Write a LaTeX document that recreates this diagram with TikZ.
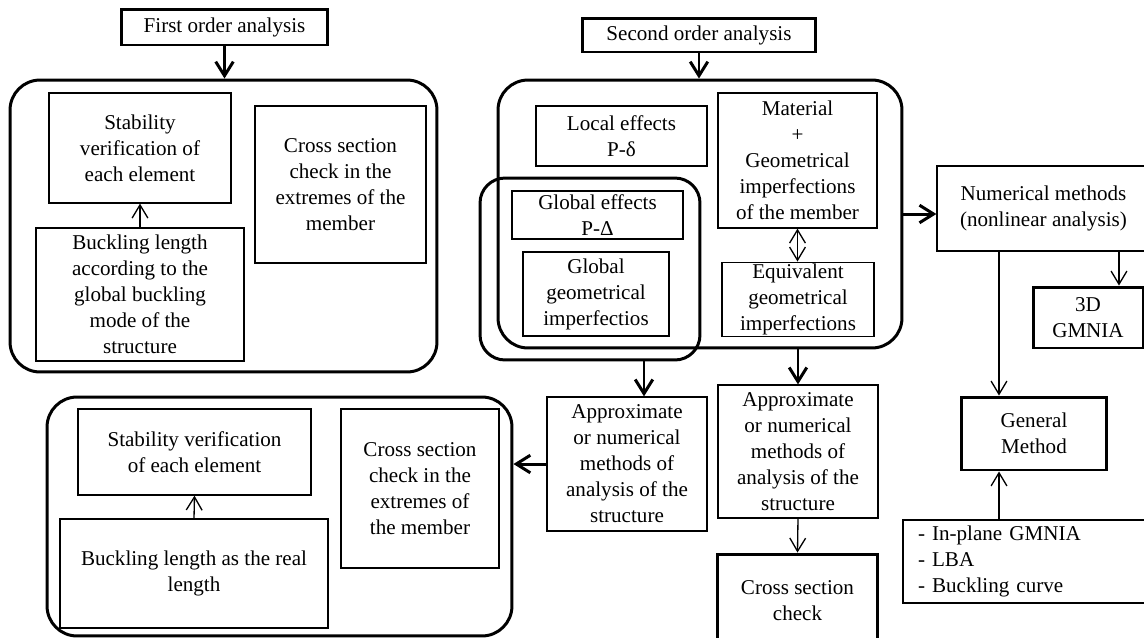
\documentclass[tikz,border=0pt]{standalone}
\usepackage{fontspec}
\setmainfont{Liberation Serif}
\usetikzlibrary{calc}
\usetikzlibrary{arrows.meta}

\begin{document}
\begin{tikzpicture}[x=0.02cm,y=-0.02cm,
		box/.style={draw,line width=0.75pt,align=center,inner sep=1pt,
			font=\fontsize{12}{14.8}\selectfont},
		boldbox/.style={box,line width=1.7pt},
		group/.style={draw,line width=1.7pt,rounded corners=0.6cm},
		bigarr/.style={line width=1.7pt,-{Straight Barb[length=8pt,width=10pt]}},
		smallarr/.style={line width=0.75pt,-{Straight Barb[length=7.5pt,width=9pt]}},
		twoarr/.style={line width=0.75pt,{Straight Barb[length=7.5pt,width=9pt]}-{Straight Barb[length=7.5pt,width=9pt]}}]
		\useasboundingbox (0,0) rectangle (1144,637);
		% groups
		\node[group,minimum width=8.54cm,minimum height=5.84cm] (grp1) at (223.5,226) {};
		\node[group,minimum width=8.08cm,minimum height=5.36cm] (grp2) at (700,214) {};
		\node[group,rounded corners=0.5cm,minimum width=4.4cm,minimum height=3.64cm] (glob) at (590,269) {};
		\node[group,minimum width=9.3cm,minimum height=4.78cm] (grp3) at (279.5,516.5) {};
		% first order
		\node[boldbox,minimum width=4.14cm,minimum height=0.72cm] (firstord) at (224.5,27) {First order analysis};
		\node[box,minimum width=3.64cm,minimum height=2.2cm] (stab1) at (140,148) {Stability\\verification of\\each element};
		\node[box,minimum width=3.42cm,minimum height=3.14cm] (cross1) at (340.5,184.5) {Cross section\\check in the\\extremes of the\\member};
		\node[box,minimum width=4.16cm,minimum height=2.66cm] (buck1) at (140,294.5) {Buckling length\\according to the\\global buckling\\mode of the\\structure};
		% second order
		\node[boldbox,minimum width=4.68cm,minimum height=0.68cm] (secord) at (699,35) {Second order analysis};
		\node[box,minimum width=3.42cm,minimum height=1.2cm] (local) at (621.5,136) {Local effects\\P-δ};
		\node[box,minimum width=3.18cm,minimum height=2.7cm] (mater) at (797.5,160.5) {Material\\+\\Geometrical\\imperfections\\of the member};
		\node[box,minimum width=3.04cm,minimum height=1.46cm] (equiv) at (798,299.5) {Equivalent\\geometrical\\imperfections};
		\node[box,minimum width=3.42cm,minimum height=0.96cm] (globeff) at (597.5,215) {Global effects\\P-Δ};
		\node[box,minimum width=2.92cm,minimum height=1.68cm] (globimp) at (596,294) {Global\\geometrical\\imperfectios};
		% numerical side
		\node[box,minimum width=4.26cm,minimum height=1.7cm] (numer) at (1043.5,208.5) {Numerical methods\\(nonlinear analysis)};
		\node[boldbox,minimum width=2.2cm,minimum height=1.22cm] (gmnia) at (1088,317.5) {3D\\GMNIA};
		\node[boldbox,minimum width=2.92cm,minimum height=1.46cm] (genmeth) at (1034,433.5) {General\\Method};
		\node[box,align=left,text width=4.34cm,inner xsep=0.3cm,minimum height=1.66cm] (list) at (1026.5,561.5) {- In-plane GMNIA\\- LBA\\- Buckling curve};
		% approximate methods
		\node[box,minimum width=3.2cm,minimum height=2.68cm] (approx1) at (627,464) {Approximate\\or numerical\\methods of\\analysis of the\\structure};
		\node[box,minimum width=3.2cm,minimum height=2.66cm] (approx2) at (798,451.5) {Approximate\\or numerical\\methods of\\analysis of the\\structure};
		\node[boldbox,minimum width=3.22cm,minimum height=1.88cm] (cscheck) at (797.5,601) {Cross section\\check};
		% bottom group
		\node[box,minimum width=4.66cm,minimum height=1.72cm] (stab2) at (194.5,452) {Stability verification\\of each element};
		\node[box,minimum width=5.36cm,minimum height=2.18cm] (buck2) at (194,573.5) {Buckling length as the real\\length};
		\node[box,minimum width=3.16cm,minimum height=3.18cm] (cross2) at (420,488.5) {Cross section\\check in the\\extremes of\\the member};
		% taps
		\coordinate (gmtap) at (999,0);
		\coordinate (gtap) at (1119,0);
		\coordinate (apptap) at (644,0);
		% connectors
		\draw[bigarr] (firstord.south) -- (firstord.south |- grp1.north);
		\draw[bigarr] (secord.south) -- (secord.south |- grp2.north);
		\draw[smallarr] (buck1.north) -- (stab1.south);
		\draw[twoarr] (mater.south) -- (mater.south |- equiv.north);
		\draw[bigarr] (grp2.east) -- (grp2.east -| numer.west);
		\draw[smallarr] (gtap |- numer.south) -- (gtap |- gmnia.north);
		\draw[smallarr] (gmtap |- numer.south) -- (gmtap |- genmeth.north);
		\draw[smallarr] (gmtap |- list.north) -- (gmtap |- genmeth.south);
		\draw[bigarr] (apptap |- glob.south) -- (apptap |- approx1.north);
		\draw[bigarr] (approx2.north |- grp2.south) -- (approx2.north);
		\draw[smallarr] (approx2.south) -- (cscheck.north);
		\draw[bigarr] (approx1.west) -- (approx1.west -| grp3.east);
		\draw[smallarr] (buck2.north) -- (stab2.south);
	\end{tikzpicture}
\end{document}
